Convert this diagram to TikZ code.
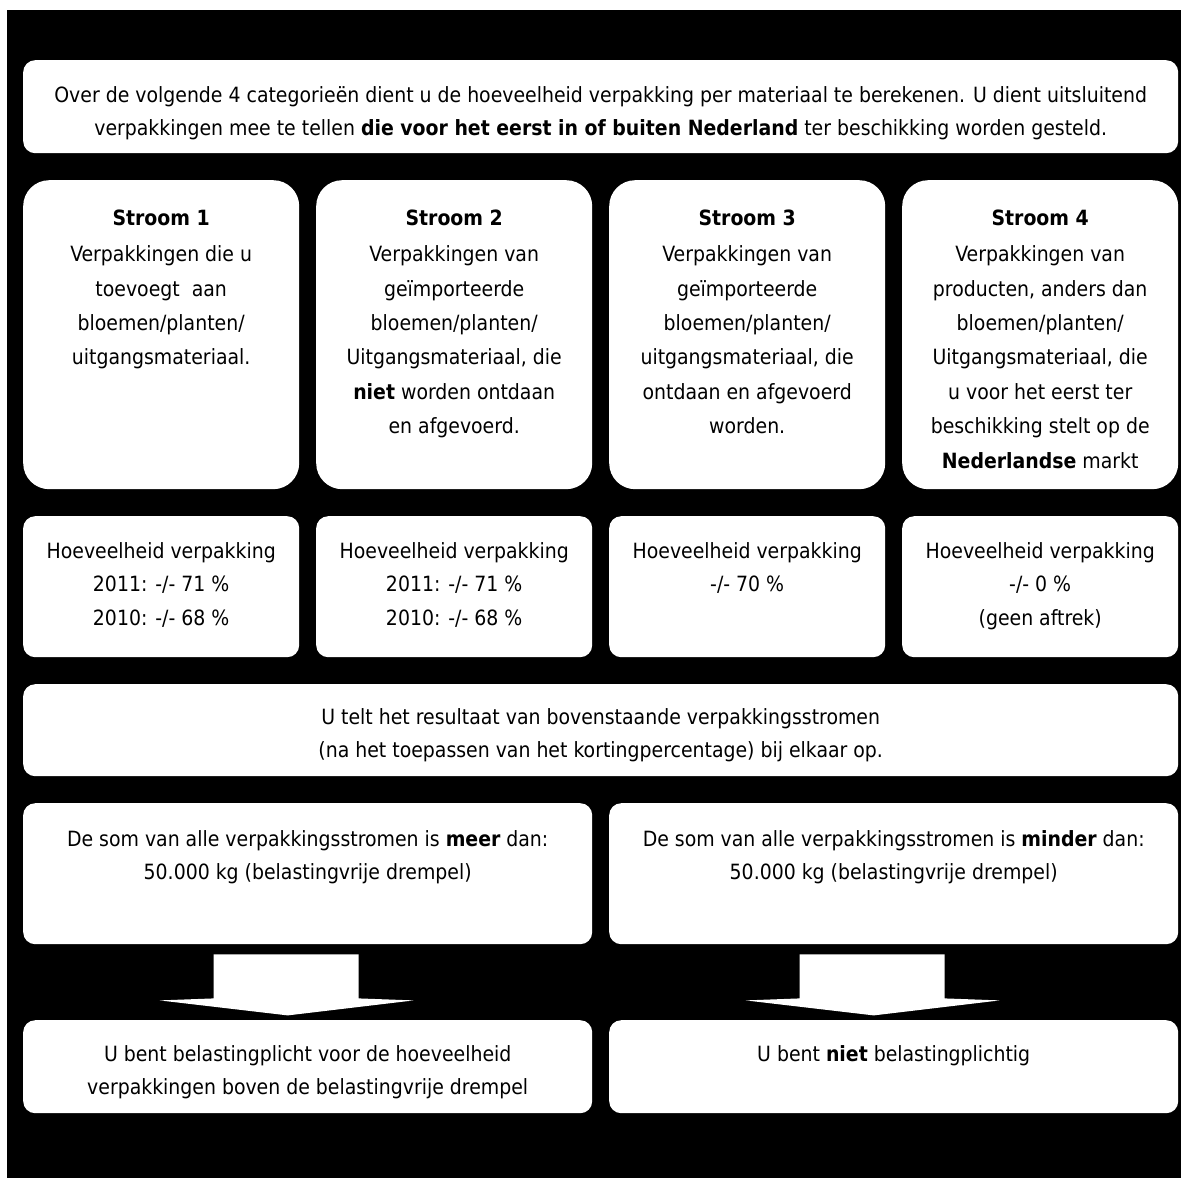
\documentclass[tikz,border=0pt]{standalone}
\usepackage{fontspec}
\setmainfont{DejaVu Sans Condensed}
\usetikzlibrary{positioning}
\tikzset{
    box/.style={fill=white, rounded corners=12pt, inner sep=0pt, anchor=north west},
    bigbox/.style={box, rounded corners=26pt, minimum width=276pt, minimum height=309pt},
    smallbox/.style={box, minimum width=276pt, minimum height=141pt},
    txt/.style={align=center, inner sep=0pt, font=\fontsize{21}{33.5}\selectfont},
    stroomtxt/.style={txt, font=\fontsize{21}{34.4}\selectfont},
}
\begin{document}
\begin{tikzpicture}[x=1pt,y=-1pt]
    \useasboundingbox (0,0) rectangle (1181,1178);
    \fill[black] (7,10) rectangle (1181,1178);
    % intro
    \node[box, minimum width=1155pt, minimum height=93pt] (intro) at (23,60) {};
    \node[txt, below=26pt of intro.north] (introtxt) {Over de volgende 4 categorieën dient u de hoeveelheid verpakking per materiaal te berekenen. U dient uitsluitend\\ verpakkingen mee te tellen \textbf{die voor het eerst in of buiten Nederland} ter beschikking worden gesteld.};
    % stromen
    \node[bigbox] (s1) at (23,180) {};
    \node[bigbox] (s2) at (316,180) {};
    \node[bigbox] (s3) at (609,180) {};
    \node[bigbox] (s4) at (902,180) {};
    \node[stroomtxt, below=30pt of s1.north] (s1txt) {\textbf{Stroom 1}\\[1.6pt] Verpakkingen die u\\ toevoegt\ \ aan\\ bloemen/planten/\\ uitgangsmateriaal.};
    \node[stroomtxt, below=30pt of s2.north] (s2txt) {\textbf{Stroom 2}\\[1.6pt] Verpakkingen van\\ geïmporteerde\\ bloemen/planten/\\ Uitgangsmateriaal, die\\ \textbf{niet} worden ontdaan\\ en afgevoerd.};
    \node[stroomtxt, below=30pt of s3.north] (s3txt) {\textbf{Stroom 3}\\[1.6pt] Verpakkingen van\\ geïmporteerde\\ bloemen/planten/\\ uitgangsmateriaal, die\\ ontdaan en afgevoerd\\ worden.};
    \node[stroomtxt, below=30pt of s4.north] (s4txt) {\textbf{Stroom 4}\\[1.6pt] Verpakkingen van\\ producten, anders dan\\ bloemen/planten/\\ Uitgangsmateriaal, die\\ u voor het eerst ter\\ beschikking stelt op de\\ \textbf{Nederlandse} markt};
    % hoeveelheden
    \node[smallbox] (h1) at (23,516) {};
    \node[smallbox] (h2) at (316,516) {};
    \node[smallbox] (h3) at (609,516) {};
    \node[smallbox] (h4) at (902,516) {};
    \node[txt, below=26pt of h1.north] (h1txt) {Hoeveelheid verpakking\\ 2011: -/- 71 \%\\ 2010: -/- 68 \%};
    \node[txt, below=26pt of h2.north] (h2txt) {Hoeveelheid verpakking\\ 2011: -/- 71 \%\\ 2010: -/- 68 \%};
    \node[txt, below=26pt of h3.north] (h3txt) {Hoeveelheid verpakking\\ -/- 70 \%};
    \node[txt, below=26pt of h4.north] (h4txt) {Hoeveelheid verpakking\\ -/- 0 \%\\ (geen aftrek)};
    % optellen
    \node[box, minimum width=1155pt, minimum height=92pt] (som) at (23,684) {};
    \node[txt, below=24pt of som.north] (somtxt) {U telt het resultaat van bovenstaande verpakkingsstromen\\ (na het toepassen van het kortingpercentage) bij elkaar op.};
    % drempel
    \node[box, minimum width=569pt, minimum height=141pt] (meer) at (23,803) {};
    \node[box, minimum width=569pt, minimum height=141pt] (minder) at (609,803) {};
    \node[txt, below=27pt of meer.north] (meertxt) {De som van alle verpakkingsstromen is \textbf{meer} dan:\\ 50.000 kg (belastingvrije drempel)};
    \node[txt, below=27pt of minder.north] (mindertxt) {De som van alle verpakkingsstromen is \textbf{minder} dan:\\ 50.000 kg (belastingvrije drempel)};
    % uitkomst
    \node[box, minimum width=569pt, minimum height=93pt] (wel) at (23,1020) {};
    \node[box, minimum width=569pt, minimum height=93pt] (niet) at (609,1020) {};
    \node[txt, below=25pt of wel.north] (weltxt) {U bent belastingplicht voor de hoeveelheid\\ verpakkingen boven de belastingvrije drempel};
    \node[txt, below=25pt of niet.north] (niettxt) {U bent \textbf{niet} belastingplichtig};
    % pijlen
    \foreach \b in {meer,minder}
        \fill[white, shift={(\b.south)}] (-94,10) -- (51,10) -- (51,54) -- (106,56)
            -- (-20,71) -- (-148,56) -- (-94,54) -- cycle;
\end{tikzpicture}
\end{document}
